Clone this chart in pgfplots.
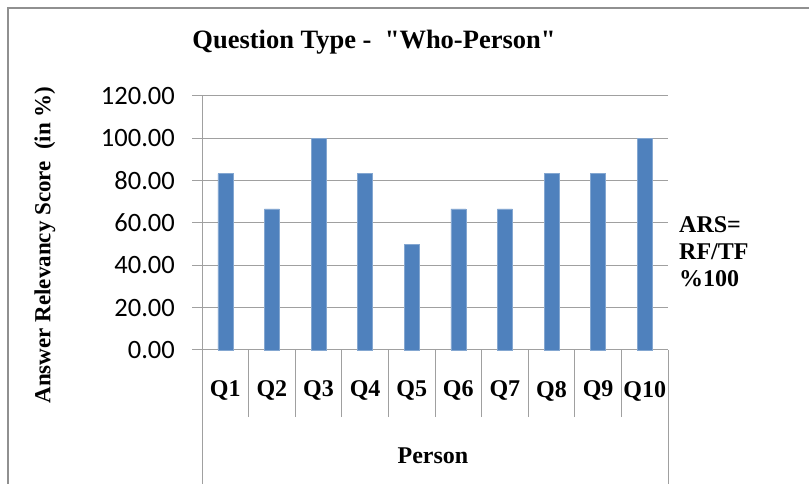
\documentclass[border=0pt]{standalone}
\usepackage{pgfplots}
\pgfplotsset{compat=1.18}
\usepackage{fontspec}
\setmainfont{Liberation Serif}
\newfontfamily\titlefont{Liberation Serif}
\newfontfamily\calibri{Carlito}
\definecolor{barblue}{HTML}{4F81BD}
\definecolor{gridgray}{HTML}{A0A0A0}
\begin{document}
\begin{tikzpicture}[x=1bp,y=1bp]
\useasboundingbox (0,0) rectangle (809,484);
\draw[gridgray!90!black, line width=2bp] (8,0) -- (8,476) -- (809,476);
\begin{axis}[
  at={(202bp,134bp)}, anchor=south west,
  scale only axis, width=466bp, height=254bp,
  xmin=-0.5, xmax=9.5, ymin=0, ymax=120,
  ybar, bar width=15bp,
  axis x line*=bottom, axis y line*=left,
  axis line style={gridgray, line width=1bp},
  ytick={0,20,...,120},
  ymajorgrids, grid style={gridgray, line width=1bp},
  yticklabel={\pgfmathprintnumber[fixed,fixed zerofill,precision=2]{\tick}},
  /pgf/number format/assume math mode=true,
  yticklabel style={font=\calibri\fontsize{26.5bp}{26.5bp}\selectfont, anchor=east, inner sep=0pt, xshift=-17bp},
  tick align=outside, major tick length=10bp,
  tick style={gridgray, line width=1bp},
  xtick={0,...,9},
  xticklabels={Q1,Q2,Q3,Q4,Q5,Q6,Q7,Q8,Q9,Q10},
  x tick style={draw=none},
  xticklabel style={font=\bfseries\fontsize{24bp}{24bp}\selectfont, anchor=center, inner sep=0pt, yshift=-31bp},
  minor xtick={0.5,1.5,...,8.5},
  minor tick length=67bp,
  minor x tick style={draw=gridgray, line width=1bp},
  extra x ticks={-0.5,9.5},
  extra x tick labels={},
  extra x tick style={major tick length=134bp, x tick style={draw=gridgray, line width=1bp}},
  clip=false,
]
\addplot[fill=barblue, draw=barblue!70!white] coordinates {
(0,83.33) (1,66.67) (2,100) (3,83.33) (4,50) (5,66.67) (6,66.67) (7,83.33) (8,83.33) (9,100)};
\end{axis}
\node[font=\titlefont\bfseries\fontsize{26.5bp}{26.5bp}\selectfont] at (374,442) {Question Type -\ \ "Who-Person"};
\node[font=\bfseries\fontsize{23bp}{23bp}\selectfont, rotate=90] at (45,239) {Answer Relevancy Score\ \ (in \%)};
\node[font=\bfseries\fontsize{24bp}{24bp}\selectfont] at (433,28) {Person};
\node[font=\bfseries\fontsize{24bp}{27bp}\selectfont, anchor=north west, align=left, inner sep=0pt] at (679,268) {ARS=\\RF/TF\\\%100};
\end{tikzpicture}
\end{document}
